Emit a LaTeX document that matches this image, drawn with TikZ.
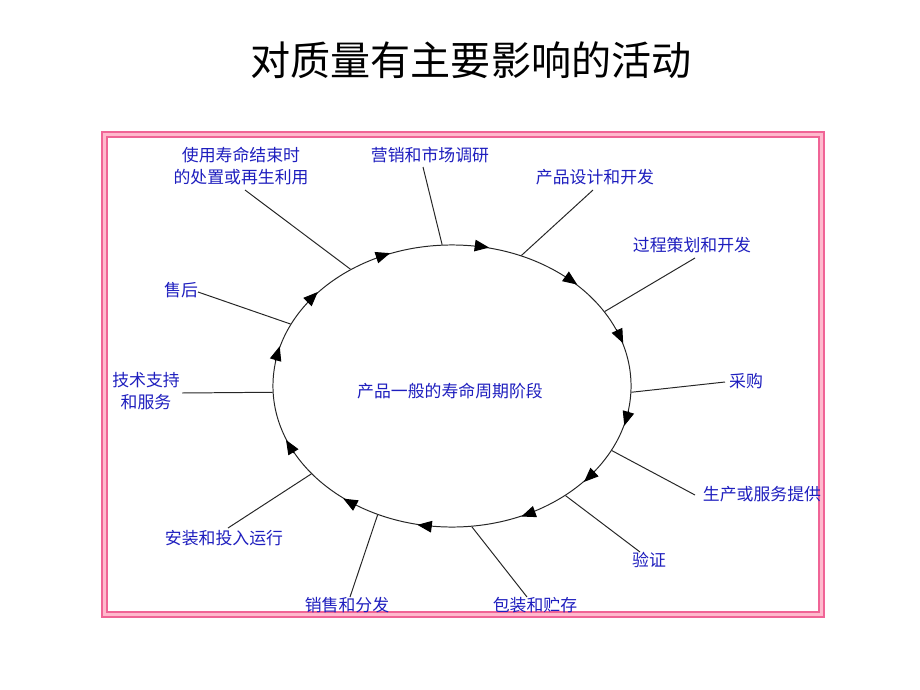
\documentclass[tikz,border=0pt]{standalone}
\usepackage{fontspec}
\setmainfont{Noto Sans CJK SC}
\usetikzlibrary{arrows.meta,shapes.geometric}
\definecolor{labelblue}{RGB}{30,30,190}
\definecolor{framepink}{RGB}{240,100,150}
\definecolor{framelight}{RGB}{255,185,205}

\begin{document}
\begin{tikzpicture}[x=0.025cm,y=-0.025cm,
    lab/.style={text=labelblue, font=\fontsize{12}{15.5}\selectfont, align=center, inner sep=1pt},
    tick/.style={draw=black!85, line width=0.7pt},
    flow/.style={-{Triangle[length=3.6mm,width=2.9mm]}, line width=0.7pt}]
  \useasboundingbox (0,0) rectangle (920,690);

  % Title
  \node[font=\fontsize{28.5}{34}\selectfont] (title) at (471,60) {对质量有主要影响的活动};

  % Frame
  \draw[framelight, line width=2.6pt] (104.5,134.5) rectangle (821.5,614.5);
  \draw[framepink, line width=1.5pt] (102,132) rectangle (824,617);
  \draw[framepink, line width=1.1pt] (107,137) rectangle (819,612);

  % Life cycle
  \node[draw=black!85, line width=0.7pt, ellipse, inner sep=0pt,
        minimum width=8.95cm, minimum height=7.05cm] (cycle) at (452,386) {};
  \node[lab] (stage) at (450,391) {产品一般的寿命周期阶段};

  % Labels
  \node[lab] (lab1) at (430,155) {营销和市场调研};
  \node[lab] (lab2) at (595,177) {产品设计和开发};
  \node[lab] (lab3) at (692,245) {过程策划和开发};
  \node[lab] (lab4) at (746,381) {采购};
  \node[lab] (lab5) at (762,494) {生产或服务提供};
  \node[lab] (lab6) at (649,560) {验证};
  \node[lab] (lab7) at (535,605) {包装和贮存};
  \node[lab] (lab8) at (347,605) {销售和分发};
  \node[lab] (lab9) at (224,538) {安装和投入运行};
  \node[lab] (lab10) at (146,391) {技术支持\\和服务};
  \node[lab] (lab11) at (181,290) {售后};
  \node[lab] (lab12) at (241,166) {使用寿命结束时\\的处置或再生利用};

  % Lines from labels to the cycle
  \foreach \i/\a/\ex/\ey in {1/94/423/167, 2/62/593/190, 3/26/695/258, 4/358/725/382,
      5/338/695/495, 6/316/640/552, 7/278/527/597, 8/240/350/597,
      9/212/228/528, 10/182/182/393, 11/159/198/292, 12/131/245/190} {
    \coordinate (end\i) at (\ex,\ey);
    \draw[tick] (end\i) -- (cycle.\a);
  }

  % Arrows along the cycle (clockwise)
  \foreach \a in {77,41,16,349,326,300,258,228,200,169,147,117} {
    \pgfmathtruncatemacro{\from}{\a + 3}
    \pgfmathtruncatemacro{\to}{\a - 2}
    \draw[flow] (cycle.\from) -- (cycle.\to);
  }
\end{tikzpicture}
\end{document}
